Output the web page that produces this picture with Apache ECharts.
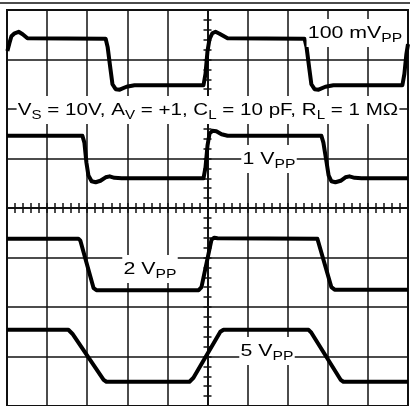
<!DOCTYPE html>
<html>
<head>
<meta charset="utf-8">
<script src="https://cdn.jsdelivr.net/npm/echarts@6/dist/echarts.min.js"></script>
<style>
  html, body { margin: 0; padding: 0; background: #fff; }
  #scope { width: 410px; height: 406px; }
</style>
</head>
<body>
<div id="scope"></div>
<script>
// Graticule: 10 horizontal x 8 vertical divisions, origin at the centre.
// Every trace point is [time in divisions, level in divisions].

// 100 mVPP step response (top trace)
const trace100mV = [
  [-4.99, 3.17], [-4.94, 3.33], [-4.89, 3.47], [-4.81, 3.53], [-4.71, 3.56],
  [-4.61, 3.51], [-4.49, 3.43], [-2.54, 3.42], [-2.49, 3.25], [-2.42, 2.81],
  [-2.37, 2.50], [-2.29, 2.40], [-2.19, 2.39], [-2.02, 2.45], [-1.82, 2.48],
  [-0.10, 2.48], [-0.05, 2.71], [0.00, 3.17], [0.05, 3.41], [0.12, 3.53],
  [0.20, 3.56], [0.30, 3.52], [0.50, 3.43], [2.42, 3.42], [2.47, 3.25],
  [2.54, 2.81], [2.59, 2.50], [2.67, 2.40], [2.77, 2.39], [2.94, 2.45],
  [3.14, 2.48], [4.86, 2.48], [4.91, 2.71], [4.96, 3.11], [5.00, 3.31]
];

// 1 VPP step response
const trace1V = [
  [-5.00, 1.46], [-3.12, 1.46], [-3.07, 1.32], [-3.02, 0.92], [-2.97, 0.66],
  [-2.89, 0.54], [-2.79, 0.52], [-2.67, 0.55], [-2.54, 0.62], [-2.44, 0.64],
  [-2.32, 0.61], [-2.14, 0.60], [-0.10, 0.60], [-0.05, 0.82], [0.00, 1.26],
  [0.05, 1.50], [0.12, 1.56], [0.22, 1.55], [0.35, 1.49], [0.50, 1.46],
  [2.84, 1.46], [2.89, 1.32], [2.97, 0.92], [3.02, 0.66], [3.09, 0.54],
  [3.19, 0.52], [3.32, 0.55], [3.44, 0.62], [3.54, 0.64], [3.67, 0.61],
  [3.84, 0.60], [5.00, 0.60]
];

// 2 VPP step response
const trace2V = [
  [-5.00, -0.62], [-3.22, -0.62], [-3.17, -0.66], [-2.84, -1.62], [-2.77, -1.66],
  [-0.22, -1.66], [-0.15, -1.60], [0.10, -0.64], [0.17, -0.60], [0.25, -0.61],
  [2.74, -0.62], [2.77, -0.66], [3.09, -1.60], [3.17, -1.65], [5.00, -1.65]
];

// 5 VPP step response (bottom trace, slew limited)
const trace5V = [
  [-5.00, -2.46], [-3.47, -2.46], [-3.37, -2.54], [-2.59, -3.47], [-2.52, -3.51],
  [-0.45, -3.51], [-0.35, -3.43], [0.32, -2.50], [0.40, -2.46], [2.52, -2.46],
  [2.59, -2.52], [3.32, -3.47], [3.39, -3.51], [5.00, -3.51]
];

const traces = [trace100mV, trace1V, trace2V, trace5V];

const ink = '#111';
const gridLine = { color: ink, width: 1.5 };
const font = 'Liberation Sans, Arial, sans-serif';

function centreXAxis(position, showSplit) {
  return {
    type: 'value', min: -5, max: 5, interval: 1, position: position,
    axisLine: { show: true, onZero: true, onZeroAxisIndex: 0, lineStyle: gridLine },
    axisTick: { show: true, length: 5, lineStyle: gridLine },
    minorTick: { show: true, splitNumber: 5, length: 5, lineStyle: gridLine },
    axisLabel: { show: false },
    splitLine: { show: showSplit, lineStyle: gridLine },
    minorSplitLine: { show: false }
  };
}
function centreYAxis(position, showSplit) {
  return {
    type: 'value', min: -4, max: 4, interval: 1, position: position,
    axisLine: { show: true, onZero: true, onZeroAxisIndex: 0, lineStyle: gridLine },
    axisTick: { show: true, length: 4, lineStyle: gridLine },
    minorTick: { show: true, splitNumber: 5, length: 4, lineStyle: gridLine },
    axisLabel: { show: false },
    splitLine: { show: showSplit, lineStyle: gridLine },
    minorSplitLine: { show: false }
  };
}

// Trace captions: Arial-style lettering, widened like the scope's own font
const richText = {
  m: { fontSize: 17, fontFamily: font, lineHeight: 24, fill: '#000' },
  s: { fontSize: 12.5, fontFamily: font, lineHeight: 11, verticalAlign: 'bottom', fill: '#000' }
};
function label(x, y, text, stretch) {
  return {
    type: 'text', x: x, y: y, z: 100, scaleX: stretch || 1.255, scaleY: 1,
    style: {
      text: text, rich: richText, fill: '#000',
      align: 'center', verticalAlign: 'middle',
      backgroundColor: '#fff', padding: [2, 1, 2, 1]
    }
  };
}

const chart = echarts.init(document.getElementById('scope'), null, { renderer: 'canvas' });
chart.setOption({
  animation: false,
  backgroundColor: '#fff',
  grid: {
    left: 7, top: 10, width: 401, height: 401,
    show: true, borderColor: ink, borderWidth: 2, backgroundColor: 'transparent'
  },
  xAxis: [centreXAxis('bottom', true), centreXAxis('top', false)],
  yAxis: [centreYAxis('left', true), centreYAxis('right', false)],
  series: traces.map(function (d) {
    return {
      type: 'line', data: d, xAxisIndex: 0, yAxisIndex: 0,
      showSymbol: false, silent: true,
      lineStyle: { color: '#000', width: 4, join: 'round' },
      z: 10
    };
  }),
  graphic: [
    { type: 'line', shape: { x1: 0, y1: 3, x2: 410, y2: 3 }, style: { stroke: ink, lineWidth: 1.5 } },
    label(355, 33, '{m|100 mV}{s|PP}'),
    label(208, 110, '{m|V}{s|S}{m| = 10V, A}{s|V}{m| = +1, C}{s|L}{m| = 10 pF, R}{s|L}{m| = 1 MΩ}', 1.21),
    label(269, 159, '{m|1 V}{s|PP}'),
    label(150, 269, '{m|2 V}{s|PP}'),
    label(267, 351, '{m|5 V}{s|PP}')
  ]
});
</script>
</body>
</html>
